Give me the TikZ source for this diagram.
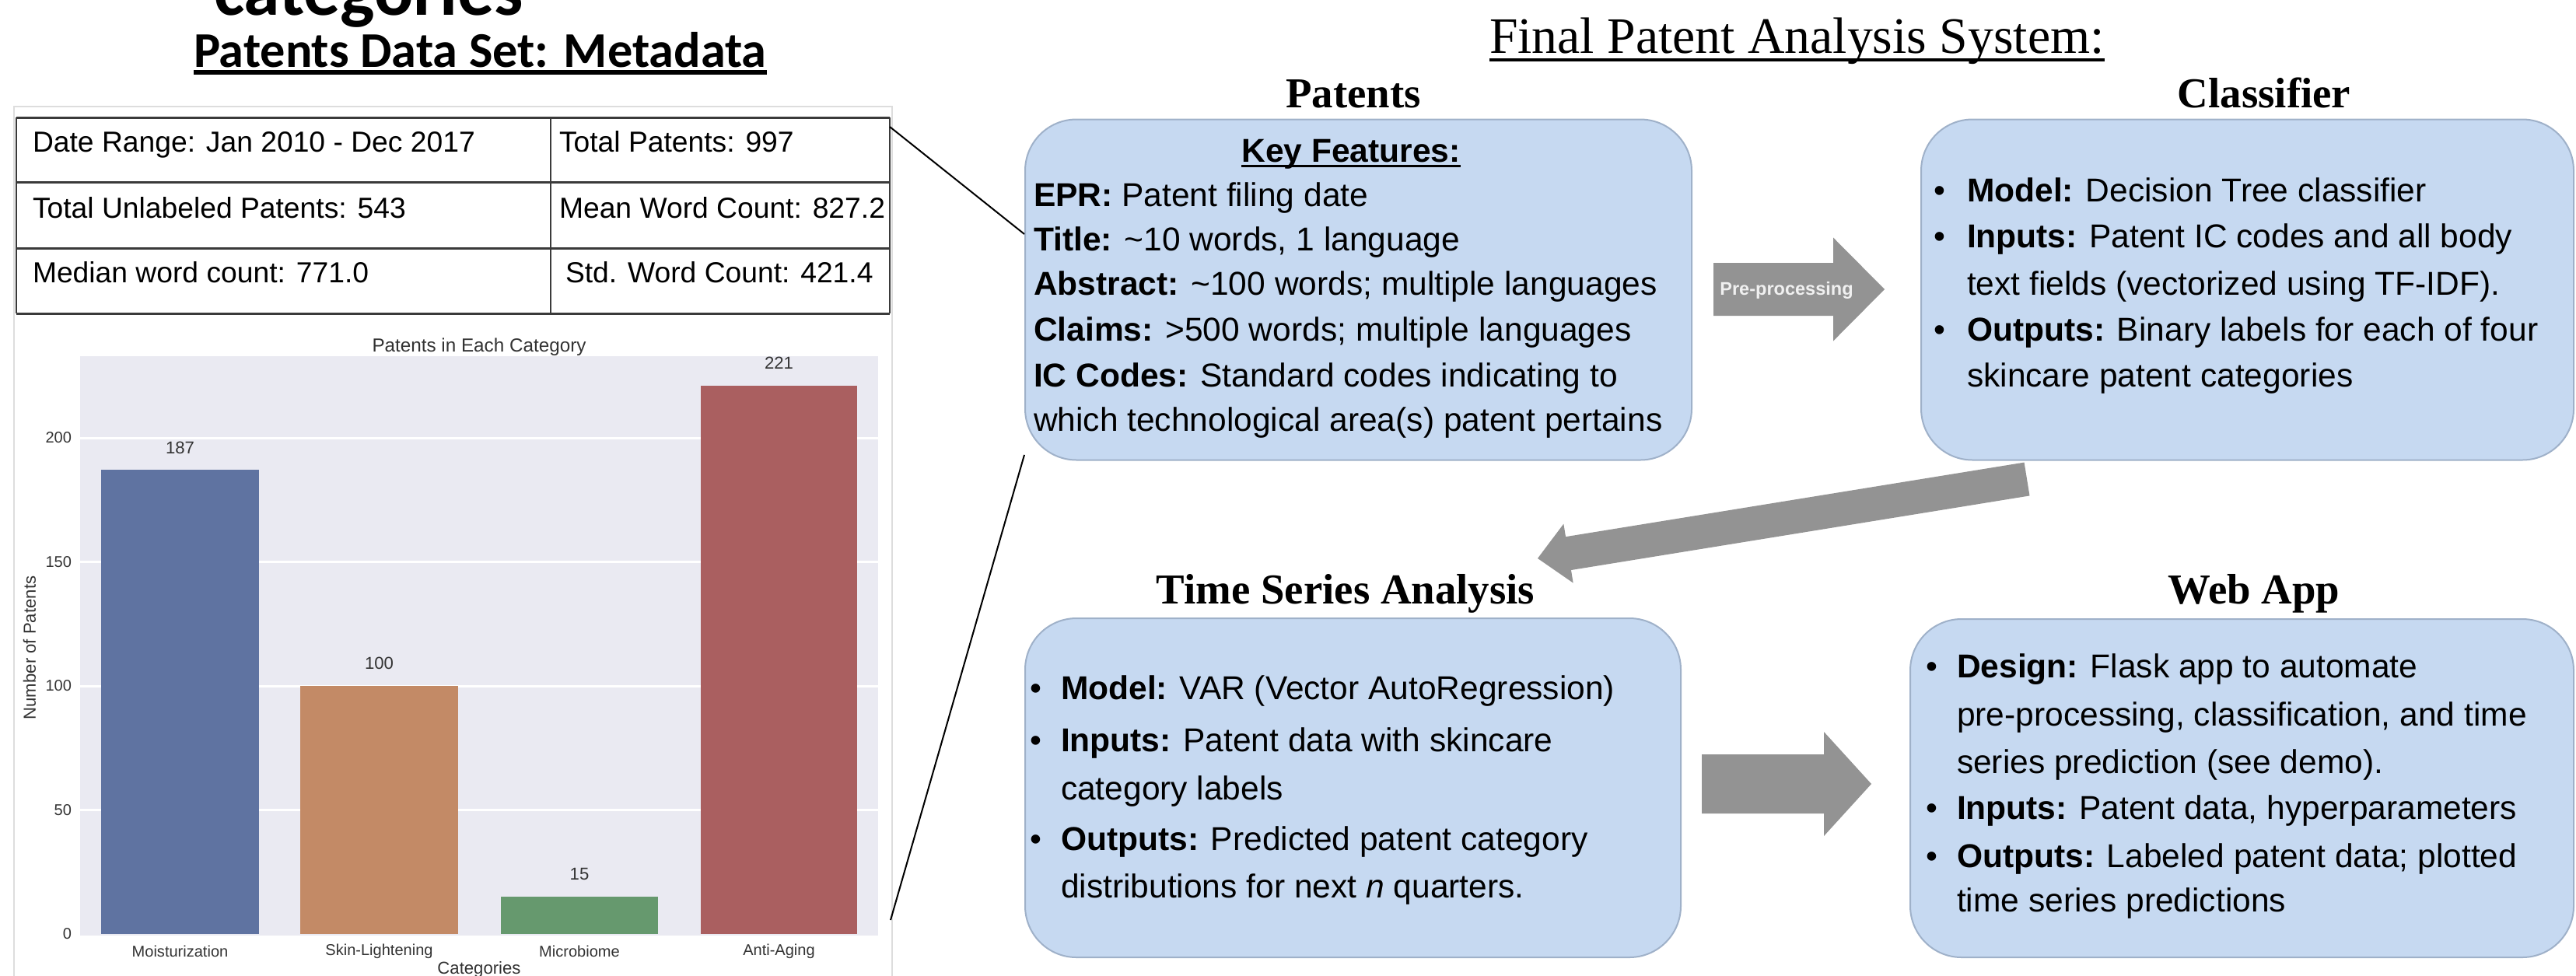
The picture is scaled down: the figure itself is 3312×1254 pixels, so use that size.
\documentclass[tikz,border=0pt]{standalone}
\usepackage{fontspec}
\setmainfont{Liberation Sans}
\newfontfamily\headserif{Liberation Serif}
\newfontfamily\carlito{Carlito}
\usetikzlibrary{calc}

\definecolor{boxfill}{HTML}{C6D9F1}
\definecolor{boxline}{HTML}{9FB1C9}
\definecolor{arrowgrey}{HTML}{939393}
\definecolor{plotbg}{HTML}{EAEAF2}
\definecolor{tablerule}{HTML}{3A3A3A}
\definecolor{framegrey}{HTML}{DDDDDD}
\definecolor{axistext}{HTML}{333333}
\definecolor{barblue}{HTML}{5F73A1}
\definecolor{barorange}{HTML}{C38A66}
\definecolor{bargreen}{HTML}{66996E}
\definecolor{barred}{HTML}{AA5F60}

\newcommand{\fsz}[1]{\fontsize{#1}{#1}\selectfont}

% block arrow from tail #1 to tip #2: shaft half width #3, head half width #4, head length #5
\newcommand{\blockarrow}[5]{%
  \coordinate (#1-hb) at ($(#2)!#5!(#1)$);
  \fill[arrowgrey]
    ($(#1)!#3!90:(#2)$) -- ($(#1-hb)!#3!90:(#2)$) -- ($(#1-hb)!#4!90:(#2)$) --
    (#2) --
    ($(#1-hb)!#4!-90:(#2)$) -- ($(#1-hb)!#3!-90:(#2)$) -- ($(#1)!#3!-90:(#2)$) -- cycle;
}

\tikzset{
  txt/.style={inner sep=0pt, outer sep=0pt, text=black},
  body/.style={txt, anchor=base west, font=\fsz{12.1pt}},
  bul/.style={txt, anchor=base, font=\fsz{12.1pt}},
  heading/.style={txt, anchor=base, font=\headserif\bfseries\fsz{15.6pt}},
  stagebox/.style={draw=boxline, fill=boxfill, line width=0.2mm,
    rounded corners=6.6mm, anchor=north west, inner sep=0pt},
  cell/.style={txt, anchor=base west, font=\fsz{10.6pt}},
  tick/.style={txt, font=\fsz{5.7pt}, text=axistext},
  barlabel/.style={txt, font=\fsz{6.3pt}, text=axistext},
  axislabel/.style={txt, font=\fsz{6.3pt}, text=axistext},
  link/.style={black, line width=0.2mm},
}

\begin{document}
\begin{tikzpicture}[x=0.1mm, y=-0.1mm]
\fill[white] (0,0) rectangle (3312,1254);
\useasboundingbox (0,0) rectangle (3312,1254);

% ---------- left panel: metadata table and category chart ----------
\node[txt, anchor=base west, font=\carlito\bfseries\fsz{26.7pt}] (prevhead) at (275,19) {categories};
\node[txt, anchor=base west, font=\carlito\bfseries\fsz{18.3pt}] (metahead) at (249,86) {Patents Data Set: Metadata};
\draw[line width=0.6mm] ([yshift=-0.7mm]metahead.base west) -- ([yshift=-0.7mm]metahead.base east);

\draw[framegrey, line width=0.2mm] (18,137) rectangle (1147,1280);

\foreach \yy in {151,234,319,403}
  \draw[tablerule, line width=0.3mm] (21,\yy) -- (1144,\yy);
\foreach \xx in {21,708,1144}
  \draw[tablerule, line width=0.25mm] (\xx,151) -- (\xx,403);

\node[cell] (daterange) at (42,195) {Date Range: Jan 2010 - Dec 2017};
\node[cell] (totalpat) at (719,195) {Total Patents: 997};
\node[cell] (unlabeled) at (42,280) {Total Unlabeled Patents: 543};
\node[cell] (meanwc) at (719,280) {Mean Word Count: 827.2};
\node[cell] (medianwc) at (42,363) {Median word count: 771.0};
\node[cell] (stdwc) at (727,363) {Std. Word Count: 421.4};

% bar chart
\node[txt, anchor=base, font=\fsz{6.9pt}, text=axistext] (charttitle) at (616,452) {Patents in Each Category};
\fill[plotbg] (103,458) rectangle (1129,1203);
\foreach \v in {50,100,150,200}
  \draw[white, line width=0.3mm] (103,{1201-3.19*\v}) -- (1129,{1201-3.19*\v});

\fill[barblue]   (130,{1201-3.19*187}) rectangle (333,1201);
\fill[barorange] (386,{1201-3.19*100}) rectangle (589,1201);
\fill[bargreen]  (644,{1201-3.19*15})  rectangle (846,1201);
\fill[barred]    (901,{1201-3.19*221}) rectangle (1102,1201);

\node[barlabel] (val187) at (231.5,{1201-3.19*187-29}) {187};
\node[barlabel] (val100) at (487.5,{1201-3.19*100-29}) {100};
\node[barlabel] (val15)  at (745,{1201-3.19*15-29}) {15};
\node[barlabel] (val221) at (1001.5,{1201-3.19*221-29}) {221};

\foreach \v in {0,50,100,150,200}
  \node[tick, anchor=east] (ytick\v) at (92,{1201-3.19*\v}) {\v};

\node[tick] (catmoist) at (231.5,1223) {Moisturization};
\node[tick] (catskin)  at (487.5,1223) {Skin-Lightening};
\node[tick] (catmicro) at (745,1223) {Microbiome};
\node[tick] (catanti)  at (1001.5,1223) {Anti-Aging};
\node[axislabel] (xaxislabel) at (616,1247) {Categories};
\node[axislabel, rotate=90] (yaxislabel) at (38,833) {Number of Patents};

% ---------- right panel: analysis pipeline ----------
\node[txt, anchor=base west, font=\headserif\fsz{18.7pt}] (systitle) at (1915,68) {Final Patent Analysis System:};
\draw[line width=0.4mm] ([yshift=-0.9mm]systitle.base west) -- ([yshift=-0.9mm]systitle.base east);

\node[heading] (hpatents) at (1740,138) {Patents};
\node[heading] (hclassifier) at (2911,138) {Classifier};
\node[heading] (htsa) at (1730,776) {Time Series Analysis};
\node[heading] (hwebapp) at (2898,776) {Web App};

\node[stagebox, minimum width=85.7mm, minimum height=43.8mm] (patents) at (1317,152.5) {};
\node[stagebox, minimum width=83.9mm, minimum height=43.8mm] (classifier) at (2469,152.5) {};
\node[stagebox, minimum width=84.3mm, minimum height=43.6mm] (tsa) at (1317,794) {};
\node[stagebox, minimum width=85.3mm, minimum height=43.5mm] (webapp) at (2455,795) {};

% patents box text
\node[txt, anchor=base, font=\bfseries\fsz{12.1pt}] (keyfeat) at (1737,208) {Key Features:};
\draw[line width=0.3mm] ([yshift=-0.5mm]keyfeat.base west) -- ([yshift=-0.5mm]keyfeat.base east);
\node[body] (pf1) at (1329,265) {\textbf{EPR:} Patent filing date};
\node[body] (pf2) at (1329,322) {\textbf{Title:} \textasciitilde10 words, 1 language};
\node[body] (pf3) at (1329,379) {\textbf{Abstract:} \textasciitilde100 words; multiple languages};
\node[body] (pf4) at (1329,438) {\textbf{Claims:} >500 words; multiple languages};
\node[body] (pf5) at (1329,497) {\textbf{IC Codes:} Standard codes indicating to};
\node[body] (pf6) at (1329,554) {which technological area(s) patent pertains};

% classifier box text
\node[bul] (cb1) at (2494,259.6) {•};
\node[body] (cl1) at (2529,259.6) {\textbf{Model:} Decision Tree classifier};
\node[bul] (cb2) at (2494,318.5) {•};
\node[body] (cl2) at (2529,318.5) {\textbf{Inputs:} Patent IC codes and all body};
\node[body] (cl3) at (2529,379) {text fields (vectorized using TF-IDF).};
\node[bul] (cb3) at (2494,438) {•};
\node[body] (cl4) at (2529,438) {\textbf{Outputs:} Binary labels for each of four};
\node[body] (cl5) at (2529,497) {skincare patent categories};

% time series box text
\node[bul] (tb1) at (1332,899) {•};
\node[body] (ts1) at (1364,899) {\textbf{Model:} VAR (Vector AutoRegression)};
\node[bul] (tb2) at (1332,966) {•};
\node[body] (ts2) at (1364,966) {\textbf{Inputs:} Patent data with skincare};
\node[body] (ts3) at (1364,1028) {category labels};
\node[bul] (tb3) at (1332,1093) {•};
\node[body] (ts4) at (1364,1093) {\textbf{Outputs:} Predicted patent category};
\node[body] (ts5) at (1364,1154) {distributions for next \textit{n} quarters.};

% web app box text
\node[bul] (wb1) at (2484,871) {•};
\node[body] (wa1) at (2516,871) {\textbf{Design:} Flask app to automate};
\node[body] (wa2) at (2516,933) {pre-processing, classification, and time};
\node[body] (wa3) at (2516,994) {series prediction (see demo).};
\node[bul] (wb2) at (2484,1053) {•};
\node[body] (wa4) at (2516,1053) {\textbf{Inputs:} Patent data, hyperparameters};
\node[bul] (wb3) at (2484,1115) {•};
\node[body] (wa5) at (2516,1115) {\textbf{Outputs:} Labeled patent data; plotted};
\node[body] (wa6) at (2516,1172) {time series predictions};

% block arrows between the stages
\coordinate (ppTail) at (2203,372);
\coordinate (ppTip) at (2423,372);
\blockarrow{ppTail}{ppTip}{3.4mm}{6.65mm}{6.6mm}
\node[txt, font=\bfseries\fsz{6.7pt}, text=white!94!black] (pplabel) at (2297,373) {Pre-processing};

\coordinate (diagTail) at (2606,616);
\coordinate (diagTip) at (1977,718);
\blockarrow{diagTail}{diagTip}{2.17mm}{3.85mm}{4.0mm}

\coordinate (webTail) at (2188,1008);
\coordinate (webTip) at (2406,1008);
\blockarrow{webTail}{webTip}{3.8mm}{6.7mm}{6.1mm}

% zoom lines from the metadata figure to the patents box
\coordinate (tablecorner) at (1144,163);
\coordinate (chartcorner) at (1145,1183);
\draw[link] (tablecorner) -- ($(patents.north west)+(0,148.5)$);
\draw[link] (chartcorner) -- ($(patents.south west)+(0,-7.6)$);
\end{tikzpicture}
\end{document}
